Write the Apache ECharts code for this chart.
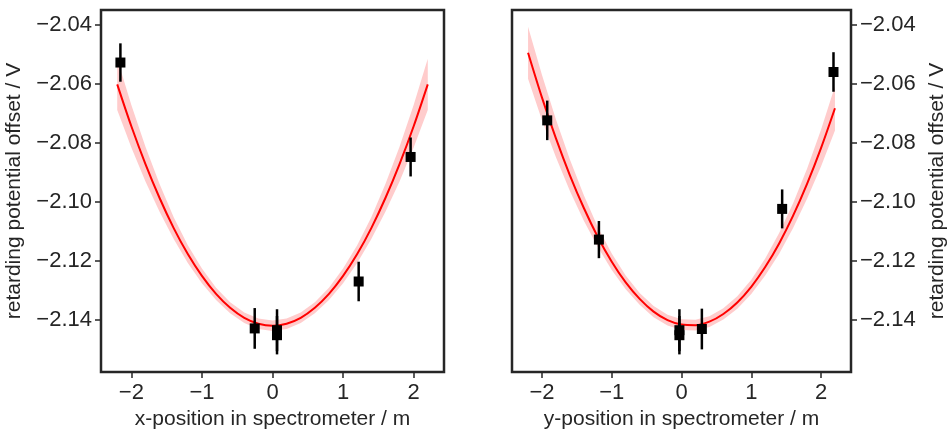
<!DOCTYPE html>
<html>
<head>
<meta charset="utf-8">
<script src="https://cdn.jsdelivr.net/npm/echarts@6/dist/echarts.min.js"></script>
<style>
html,body{margin:0;padding:0;background:#fff;}
#chart{width:949px;height:435px;}
</style>
</head>
<body>
<div id="chart"></div>
<script>
// ---- data ----
const xTicks = [-2, -1, 0, 1, 2];
const yTicks = [-2.14, -2.12, -2.10, -2.08, -2.06, -2.04];

const fitX = [-2.2, -2.0, -1.8, -1.6, -1.4, -1.2, -1.0, -0.8, -0.6, -0.4, -0.2, 0.0,
              0.2, 0.4, 0.6, 0.8, 1.0, 1.2, 1.4, 1.6, 1.8, 2.0, 2.2];

const leftFit = [-2.0602, -2.0744, -2.0872, -2.0987, -2.1089, -2.1177, -2.1251, -2.1312,
                 -2.1359, -2.1393, -2.1413, -2.1420, -2.1413, -2.1393, -2.1359, -2.1312,
                 -2.1251, -2.1177, -2.1089, -2.0987, -2.0872, -2.0744, -2.0602];
const leftBand = [0.0087, 0.0072, 0.0059, 0.0047, 0.0037, 0.0030, 0.0025, 0.0021, 0.0019,
                  0.0018, 0.0018, 0.0018, 0.0018, 0.0018, 0.0019, 0.0021, 0.0025, 0.0030,
                  0.0037, 0.0047, 0.0059, 0.0072, 0.0087];

const rightFit = [-2.0495, -2.0647, -2.0785, -2.0910, -2.1021, -2.1119, -2.1203, -2.1273,
                  -2.1329, -2.1372, -2.1401, -2.1416, -2.1418, -2.1406, -2.1380, -2.1341,
                  -2.1288, -2.1221, -2.1141, -2.1047, -2.0939, -2.0818, -2.0683];
const rightBand = [0.0088, 0.0077, 0.0064, 0.0053, 0.0043, 0.0034, 0.0028, 0.0023, 0.0020,
                   0.0019, 0.0018, 0.0018, 0.0018, 0.0018, 0.0019, 0.0021, 0.0024, 0.0029,
                   0.0035, 0.0042, 0.0051, 0.0062, 0.0075];

const leftX   = [-2.155, -0.252, 0.064, 0.064, 1.221, 1.957];
const leftY   = [-2.0528, -2.1429, -2.1435, -2.1452, -2.1270, -2.0848];
const leftErr = [0.0065, 0.0069, 0.0071, 0.0065, 0.0067, 0.0066];

const rightX   = [-1.925, -1.184, -0.030, -0.030, 0.292, 1.443, 2.179];
const rightY   = [-2.0724, -2.1128, -2.1435, -2.1452, -2.1431, -2.1024, -2.0560];
const rightErr = [0.0067, 0.0063, 0.0071, 0.0065, 0.0069, 0.0066, 0.0067];

const xLabels = ['x-position in spectrometer / m', 'y-position in spectrometer / m'];
const yLabel = 'retarding potential offset / V';

// ---- styles ----
const TXT = '#262626';
const FONT = 'Liberation Sans';
const FS_TICK = 22;
const FS_NAME = 21;
const X_MIN = -2.43, X_MAX = 2.43;
const Y_MIN = -2.1577, Y_MAX = -2.035;

function minus(s) { return s.replace('-', '\u2212'); }

function xAxis(idx) {
  return {
    type: 'value', gridIndex: idx, min: X_MIN, max: X_MAX,
    name: xLabels[idx], nameLocation: 'middle', nameGap: 31,
    nameTextStyle: { color: TXT, fontFamily: FONT, fontSize: FS_NAME },
    axisLine: { show: false, onZero: false },
    axisTick: { show: true, length: 6, customValues: xTicks, lineStyle: { color: TXT, width: 1.5 } },
    axisLabel: { show: true, customValues: xTicks, margin: 10, color: TXT, fontFamily: FONT, fontSize: FS_TICK,
                 formatter: v => minus(String(Math.round(v))) },
    splitLine: { show: false }
  };
}
function yAxis(idx) {
  return {
    type: 'value', gridIndex: idx, min: Y_MIN, max: Y_MAX,
    position: idx === 0 ? 'left' : 'right',
    name: yLabel, nameLocation: 'middle', nameRotate: 90, nameGap: 76,
    nameTextStyle: { color: TXT, fontFamily: FONT, fontSize: FS_NAME },
    axisLine: { show: false, onZero: false },
    axisTick: { show: true, length: 6, customValues: yTicks, lineStyle: { color: TXT, width: 1.5 } },
    axisLabel: { show: true, customValues: yTicks, margin: 9, color: TXT, fontFamily: FONT, fontSize: FS_TICK,
                 formatter: v => minus(v.toFixed(2)) },
    splitLine: { show: false }
  };
}

function bandSeries(idx, fit, band) {
  const data = fitX.map((x, i) => [x, fit[i] - band[i], fit[i] + band[i]]);
  return {
    type: 'custom', xAxisIndex: idx, yAxisIndex: idx, z: 1, silent: true,
    data: data, encode: { x: 0, y: [1, 2] },
    renderItem: function (params, api) {
      if (params.dataIndex !== 0) return null;
      const pts = [];
      for (let i = 0; i < data.length; i++) pts.push(api.coord([data[i][0], data[i][1]]));
      for (let i = data.length - 1; i >= 0; i--) pts.push(api.coord([data[i][0], data[i][2]]));
      return { type: 'polygon', shape: { points: pts }, style: { fill: '#ffcccc', stroke: null } };
    }
  };
}
function fitSeries(idx, fit) {
  return {
    type: 'line', xAxisIndex: idx, yAxisIndex: idx, z: 2, silent: true,
    data: fitX.map((x, i) => [x, fit[i]]), showSymbol: false, smooth: 0.3,
    lineStyle: { color: '#ff0000', width: 2 }
  };
}
function errSeries(idx, xs, ys, es) {
  return {
    type: 'custom', xAxisIndex: idx, yAxisIndex: idx, z: 3, silent: true,
    data: xs.map((x, i) => [x, ys[i] - es[i], ys[i] + es[i]]), encode: { x: 0, y: [1, 2] },
    renderItem: function (params, api) {
      const a = api.coord([api.value(0), api.value(1)]);
      const b = api.coord([api.value(0), api.value(2)]);
      return { type: 'line', shape: { x1: a[0], y1: a[1], x2: b[0], y2: b[1] },
               style: { stroke: '#000', lineWidth: 2.5 } };
    }
  };
}
function ptSeries(idx, xs, ys) {
  return {
    type: 'scatter', xAxisIndex: idx, yAxisIndex: idx, z: 4, silent: true,
    data: xs.map((x, i) => [x, ys[i]]), symbol: 'rect', symbolSize: 10,
    itemStyle: { color: '#000', opacity: 1 }
  };
}

const chart = echarts.init(document.getElementById('chart'), null, { renderer: 'canvas' });
chart.setOption({
  animation: false,
  backgroundColor: '#fff',
  grid: [
    { left: 101, right: 505, top: 10, bottom: 58, show: true, borderColor: TXT, borderWidth: 2.5, backgroundColor: 'transparent' },
    { left: 512, right: 93, top: 10, bottom: 58, show: true, borderColor: TXT, borderWidth: 2.5, backgroundColor: 'transparent' }
  ],
  xAxis: [xAxis(0), xAxis(1)],
  yAxis: [yAxis(0), yAxis(1)],
  series: [
    bandSeries(0, leftFit, leftBand), fitSeries(0, leftFit),
    errSeries(0, leftX, leftY, leftErr), ptSeries(0, leftX, leftY),
    bandSeries(1, rightFit, rightBand), fitSeries(1, rightFit),
    errSeries(1, rightX, rightY, rightErr), ptSeries(1, rightX, rightY)
  ]
});
</script>
</body>
</html>
